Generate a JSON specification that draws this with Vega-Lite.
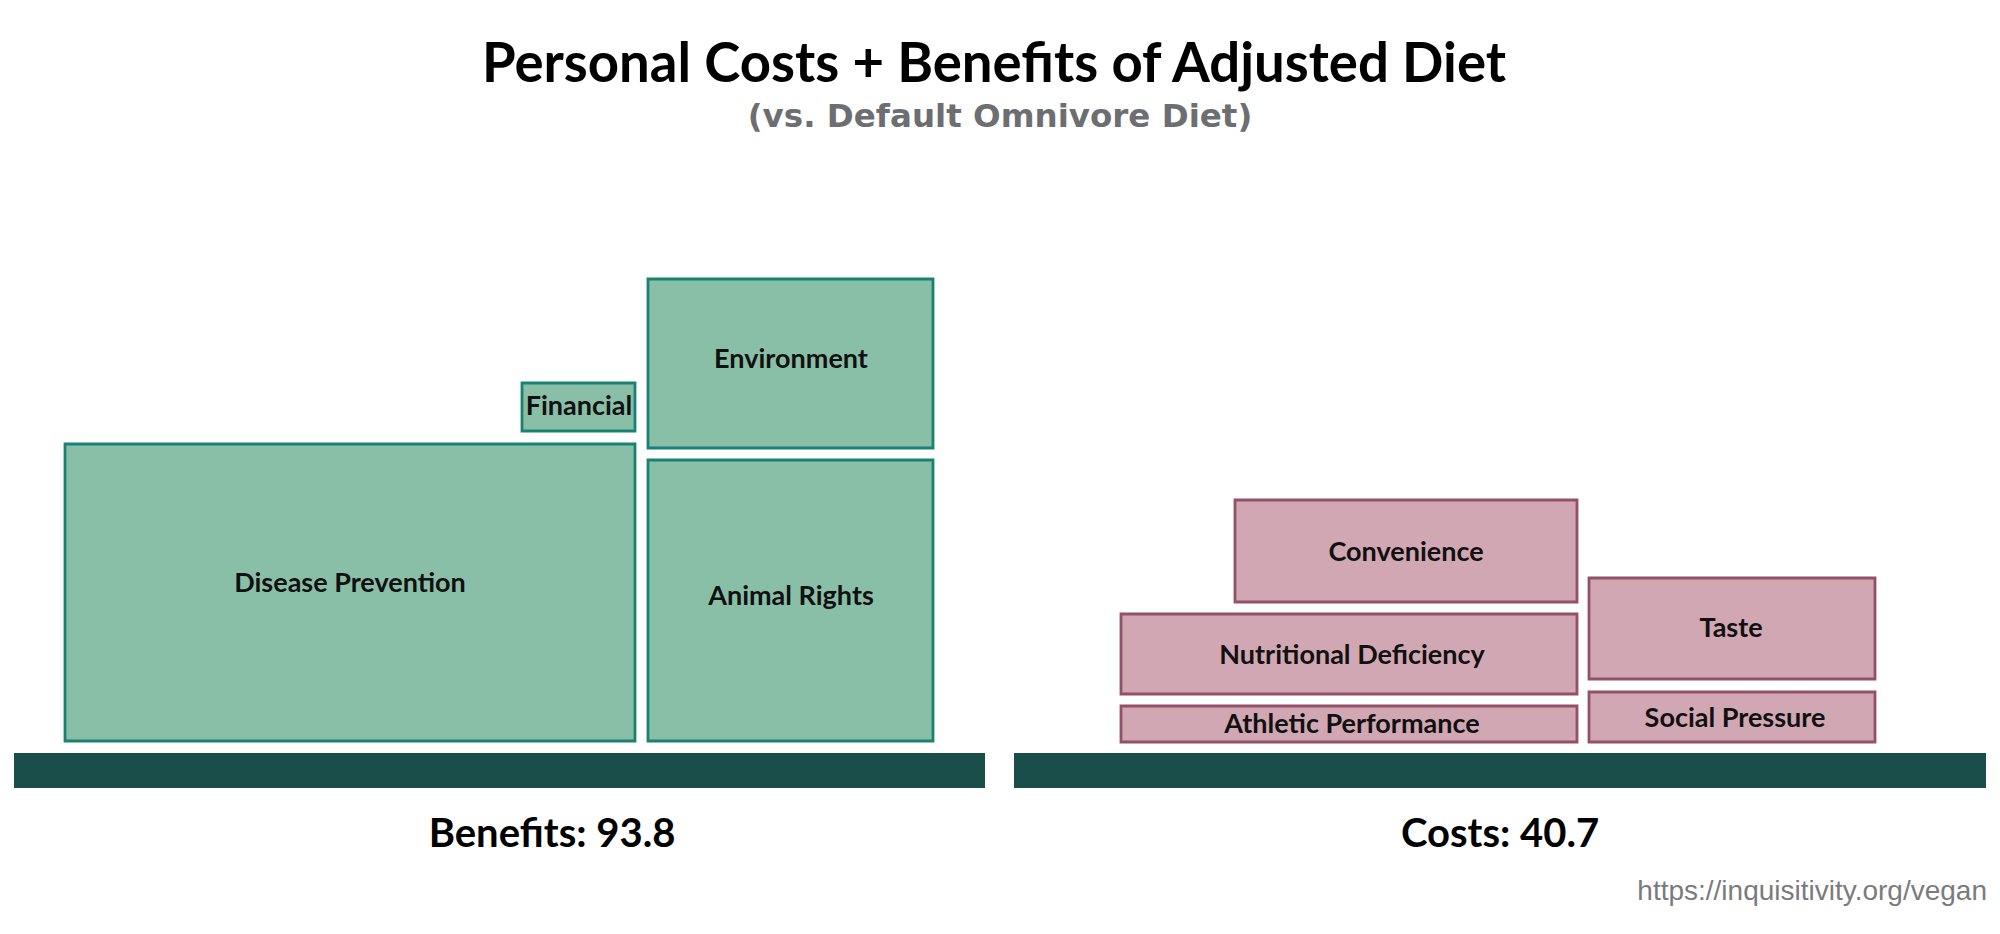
{
  "$schema": "https://vega.github.io/schema/vega-lite/v6.json",
  "width": 2000,
  "height": 934,
  "padding": 0,
  "autosize": {"type": "none"},
  "background": "white",
  "config": {"view": {"stroke": null}},
  "datasets": {
    "bases": [
      {"side": "Benefits", "x0": 14, "x1": 985, "y0": -34, "y1": 1},
      {"side": "Costs", "x0": 1014, "x1": 1986, "y0": -34, "y1": 1}
    ],
    "boxes": [
      {"name": "Disease Prevention", "side": "Benefits", "x0": 65, "x1": 635, "y0": 13, "y1": 310, "lx": 350, "ly": 162},
      {"name": "Financial", "side": "Benefits", "x0": 522, "x1": 635, "y0": 323, "y1": 371, "lx": 579, "ly": 339},
      {"name": "Environment", "side": "Benefits", "x0": 648, "x1": 933, "y0": 306, "y1": 475, "lx": 791, "ly": 386},
      {"name": "Animal Rights", "side": "Benefits", "x0": 648, "x1": 933, "y0": 13, "y1": 294, "lx": 791, "ly": 149},
      {"name": "Convenience", "side": "Costs", "x0": 1235, "x1": 1577, "y0": 152, "y1": 254, "lx": 1406, "ly": 193},
      {"name": "Nutritional Deficiency", "side": "Costs", "x0": 1121, "x1": 1577, "y0": 60, "y1": 140, "lx": 1352, "ly": 90},
      {"name": "Athletic Performance", "side": "Costs", "x0": 1121, "x1": 1577, "y0": 12, "y1": 48, "lx": 1352, "ly": 21},
      {"name": "Taste", "side": "Costs", "x0": 1589, "x1": 1875, "y0": 75, "y1": 176, "lx": 1731, "ly": 117},
      {"name": "Social Pressure", "side": "Costs", "x0": 1589, "x1": 1875, "y0": 12, "y1": 62, "lx": 1735, "ly": 27}
    ],
    "texts": [
      {"role": "title", "text": "Personal Costs + Benefits of Adjusted Diet", "x": 994, "y": 672},
      {"role": "subtitle", "text": "(vs. Default Omnivore Diet)", "x": 1000, "y": 627},
      {"role": "total", "text": "Benefits: 93.8", "x": 552, "y": -93},
      {"role": "total", "text": "Costs: 40.7", "x": 1500, "y": -93},
      {"role": "source", "text": "https://inquisitivity.org/vegan", "x": 1987, "y": -146}
    ]
  },
  "layer": [
    {
      "data": {"name": "bases"},
      "mark": {"type": "rect", "color": "#1A4E4A"},
      "encoding": {
        "x": {"field": "x0", "type": "quantitative", "scale": {"domain": [0, 2000], "nice": false, "zero": false}, "axis": null},
        "x2": {"field": "x1"},
        "y": {"field": "y0", "type": "quantitative", "scale": {"domain": [-180, 754], "nice": false, "zero": false}, "axis": null},
        "y2": {"field": "y1"}
      }
    },
    {
      "data": {"name": "boxes"},
      "mark": {"type": "rect", "strokeWidth": 2.8, "fillOpacity": 1},
      "encoding": {
        "x": {"field": "x0", "type": "quantitative", "scale": {"domain": [0, 2000], "nice": false, "zero": false}, "axis": null},
        "x2": {"field": "x1"},
        "y": {"field": "y0", "type": "quantitative", "scale": {"domain": [-180, 754], "nice": false, "zero": false}, "axis": null},
        "y2": {"field": "y1"},
        "fill": {"field": "side", "type": "nominal", "scale": {"domain": ["Benefits", "Costs"], "range": ["#8ABFA7", "#D1A7B3"]}, "legend": null},
        "stroke": {"field": "side", "type": "nominal", "scale": {"domain": ["Benefits", "Costs"], "range": ["#1A8272", "#92506A"]}, "legend": null}
      }
    },
    {
      "data": {"name": "boxes"},
      "mark": {"type": "text", "font": "Lato", "fontWeight": "bold", "fontSize": 27, "color": "#111111", "align": "center", "baseline": "alphabetic"},
      "encoding": {
        "x": {"field": "lx", "type": "quantitative", "scale": {"domain": [0, 2000], "nice": false, "zero": false}, "axis": null},
        "y": {"field": "ly", "type": "quantitative", "scale": {"domain": [-180, 754], "nice": false, "zero": false}, "axis": null},
        "text": {"field": "name"}
      }
    },
    {
      "data": {"name": "texts"},
      "transform": [{"filter": "datum.role === 'title'"}],
      "mark": {"type": "text", "font": "Lato", "fontWeight": "bold", "fontSize": 54.5, "color": "#000000", "align": "center", "baseline": "alphabetic"},
      "encoding": {
        "x": {"field": "x", "type": "quantitative", "scale": {"domain": [0, 2000], "nice": false, "zero": false}, "axis": null},
        "y": {"field": "y", "type": "quantitative", "scale": {"domain": [-180, 754], "nice": false, "zero": false}, "axis": null},
        "text": {"field": "text"}
      }
    },
    {
      "data": {"name": "texts"},
      "transform": [{"filter": "datum.role === 'subtitle'"}],
      "mark": {"type": "text", "font": "DejaVu Sans", "fontWeight": "bold", "fontSize": 32.5, "color": "#6D6E71", "align": "center", "baseline": "alphabetic"},
      "encoding": {
        "x": {"field": "x", "type": "quantitative", "scale": {"domain": [0, 2000], "nice": false, "zero": false}, "axis": null},
        "y": {"field": "y", "type": "quantitative", "scale": {"domain": [-180, 754], "nice": false, "zero": false}, "axis": null},
        "text": {"field": "text"}
      }
    },
    {
      "data": {"name": "texts"},
      "transform": [{"filter": "datum.role === 'total'"}],
      "mark": {"type": "text", "font": "Lato", "fontWeight": "bold", "fontSize": 40, "color": "#000000", "align": "center", "baseline": "alphabetic"},
      "encoding": {
        "x": {"field": "x", "type": "quantitative", "scale": {"domain": [0, 2000], "nice": false, "zero": false}, "axis": null},
        "y": {"field": "y", "type": "quantitative", "scale": {"domain": [-180, 754], "nice": false, "zero": false}, "axis": null},
        "text": {"field": "text"}
      }
    },
    {
      "data": {"name": "texts"},
      "transform": [{"filter": "datum.role === 'source'"}],
      "mark": {"type": "text", "font": "Liberation Sans", "fontWeight": "normal", "fontSize": 28, "color": "#7A7B7E", "align": "right", "baseline": "alphabetic"},
      "encoding": {
        "x": {"field": "x", "type": "quantitative", "scale": {"domain": [0, 2000], "nice": false, "zero": false}, "axis": null},
        "y": {"field": "y", "type": "quantitative", "scale": {"domain": [-180, 754], "nice": false, "zero": false}, "axis": null},
        "text": {"field": "text"}
      }
    }
  ]
}
